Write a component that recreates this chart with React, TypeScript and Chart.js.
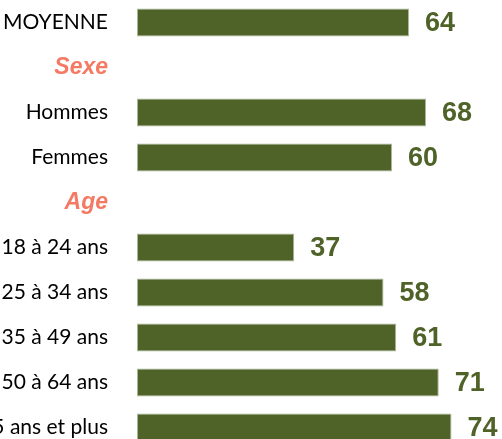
import React, { useEffect, useRef } from "react";
import { Chart, registerables } from "chart.js";

Chart.register(...registerables);

const categories = [
  "MOYENNE",
  "Sexe",
  "Hommes",
  "Femmes",
  "Age",
  "18 à 24 ans",
  "25 à 34 ans",
  "35 à 49 ans",
  "50 à 64 ans",
  "65 ans et plus",
];
const headerRows = ["Sexe", "Age"];
const values: (number | null)[] = [64, null, 68, 60, null, 37, 58, 61, 71, 74];

const BAR = "#4f6228";
const BAR_EDGE = "#aab897";
const HEADER = "#f47a63";

const valueLabels = {
  id: "valueLabels",
  afterDatasetsDraw(chart: any) {
    const ctx = chart.ctx;
    const meta = chart.getDatasetMeta(0);
    ctx.save();
    ctx.font = "bold 27px 'Liberation Sans', Arial, sans-serif";
    ctx.fillStyle = BAR;
    ctx.textAlign = "left";
    ctx.textBaseline = "middle";
    meta.data.forEach((el: any, i: number) => {
      const v = values[i];
      if (v == null) return;
      ctx.fillText(String(v), el.x + 16, el.y + 1);
    });
    ctx.restore();
  },
};

export default function App() {
  const ref = useRef<HTMLCanvasElement>(null);
  useEffect(() => {
    if (!ref.current) return;
    const chart = new Chart(ref.current, {
      type: "bar",
      data: {
        labels: categories,
        datasets: [
          {
            data: values,
            backgroundColor: BAR,
            borderColor: BAR_EDGE,
            borderWidth: 1,
            borderSkipped: false,
            barPercentage: 28 / 45,
            categoryPercentage: 1,
          },
        ],
      },
      options: {
        indexAxis: "y",
        animation: false,
        responsive: true,
        maintainAspectRatio: false,
        layout: { padding: { left: 0, right: 25, top: 0, bottom: 0 } },
        plugins: { legend: { display: false }, tooltip: { enabled: false } },
        scales: {
          x: { display: false, min: 0, max: 80 },
          y: {
            afterFit: (scale: any) => {
              scale.width = 137;
              scale.paddingTop = 0;
              scale.paddingBottom = 0;
            },
            grid: { display: false },
            border: { display: false },
            ticks: {
              padding: 21,
              color: (c: any) =>
                headerRows.includes(categories[c.index]) ? HEADER : "#000000",
              font: (c: any) =>
                headerRows.includes(categories[c.index])
                  ? { family: "'Liberation Sans', Arial, sans-serif", size: 23, weight: "bold", style: "italic" }
                  : { family: "Lato, sans-serif", size: 21, weight: "normal" },
            },
          },
        },
      },
      plugins: [valueLabels],
    });
    return () => chart.destroy();
  }, []);
  return (
    <div
      style={{
        position: "absolute",
        top: 0,
        left: 0,
        width: 502,
        height: 439,
        overflow: "hidden",
        background: "#ffffff",
      }}
    >
      <div style={{ position: "relative", width: 502, height: 450 }}>
        <canvas ref={ref} />
      </div>
    </div>
  );
}
